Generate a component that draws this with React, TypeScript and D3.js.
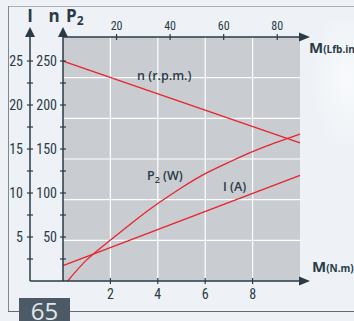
import React from "react";
import * as d3 from "d3";

const bottomTicks = [2, 4, 6, 8];
const topTicks = [20, 40, 60, 80];
const nTickLabels = [50, 100, 150, 200, 250];
const iTickLabels = [5, 10, 15, 20, 25];
const minorTicks = [25, 50, 75, 100, 125, 150, 175, 200, 225, 250];

// n (r.p.m.) vs M (N.m)
const nM = [0, 10];
const nVals = [250, 157];
// P2 (W) vs M
const p2M = [0.2, 1, 2, 3, 4, 5, 6, 7, 8, 9, 10];
const p2Vals = [0, 24, 46.5, 68, 88, 106, 122, 135, 147, 157.5, 167];
// I (A) vs M
const iM = [0, 10];
const iVals = [1.74, 12.0];

const FONT = "'Liberation Sans Narrow', 'Roboto Condensed', Roboto, sans-serif";
const LFONT = "'Open Sans', 'Noto Sans', sans-serif";
const AX = "#2a3b47";
const RED = "#e8242c";

export default function App() {
  const x = d3.scaleLinear().domain([0, 10]).range([63, 300]);
  const xTop = d3.scaleLinear().domain([0, 88.5]).range([63, 300]);
  const y = d3.scaleLinear().domain([0, 277.3]).range([281, 37]);
  const yI = d3.scaleLinear().domain([0, 27.73]).range([281, 37]);
  const hGrid = d3.range(1, 6).map((k) => (277.3 / 6) * k);

  const line = d3.line<[number, number]>().x((d) => x(d[0])).y((d) => y(d[1]));
  const lineI = d3.line<[number, number]>().x((d) => x(d[0])).y((d) => yI(d[1]));
  const curve = d3
    .line<[number, number]>()
    .x((d) => x(d[0]))
    .y((d) => y(d[1]))
    .curve(d3.curveNatural);

  const nPath = line(nM.map((m, i) => [m, nVals[i]]));
  const p2Path = curve(p2M.map((m, i) => [m, p2Vals[i]]));
  const iPath = lineI(iM.map((m, i) => [m, iVals[i]]));

  return (
    <svg
      width={354}
      height={321}
      style={{ position: "absolute", left: 0, top: 0 }}
    >
      <defs>
        <radialGradient id="bg" cx="0.93" cy="0.3" r="0.35">
          <stop offset="0" stopColor="#f8fafc" />
          <stop offset="1" stopColor="#eef2f6" />
        </radialGradient>
      </defs>
      <rect x={0} y={0} width={354} height={321} fill="#eef2f6" />
      <rect x={250} y={20} width={104} height={200} fill="url(#bg)" />
      {/* frame */}
      <line x1={8} y1={6.5} x2={354} y2={6.5} stroke="#a9b3bc" strokeWidth={1} />
      <line x1={8.5} y1={6} x2={8.5} y2={312} stroke="#7d8a94" strokeWidth={1} />
      <line x1={8} y1={311.5} x2={354} y2={311.5} stroke="#5f6c76" strokeWidth={1} />
      <rect x={19} y={298} width={51} height={23} fill="#4b5a65" />
      <text
        x={44.5}
        y={320}
        textAnchor="middle"
        fontFamily={LFONT}
        fontSize={24}
        fill="#e3e8ec"
      >
        65
      </text>

      {/* plot area */}
      <rect x={63} y={37} width={237} height={244} fill="#c9ccd0" />
      {bottomTicks.map((t) => (
        <line key={"vg" + t} x1={x(t)} x2={x(t)} y1={37} y2={281} stroke="#ffffff" strokeWidth={1.2} />
      ))}
      {hGrid.map((v, i) => (
        <line key={"hg" + i} x1={63} x2={300} y1={y(v)} y2={y(v)} stroke="#ffffff" strokeWidth={1.2} />
      ))}

      {/* curves */}
      <path d={nPath || ""} fill="none" stroke={RED} strokeWidth={1.3} />
      <path d={p2Path || ""} fill="none" stroke={RED} strokeWidth={1.3} />
      <path d={iPath || ""} fill="none" stroke={RED} strokeWidth={1.3} />

      {/* axes */}
      <line x1={30} x2={300} y1={281} y2={281} stroke={AX} strokeWidth={1.5} />
      <path d={`M299,276.5 L310,281 L299,285.5 Z`} fill={AX} />
      <line x1={63} x2={300} y1={37} y2={37} stroke={AX} strokeWidth={1.5} />
      <path d={`M299,32.5 L310,37 L299,41.5 Z`} fill={AX} />
      <line x1={63} x2={63} y1={37} y2={281} stroke={AX} strokeWidth={1.5} />
      <path d={`M58,37 L63,27 L68,37 Z`} fill={AX} />
      <line x1={30} x2={30} y1={37} y2={281} stroke={AX} strokeWidth={1.5} />
      <path d={`M25,37 L30,27 L35,37 Z`} fill={AX} />

      {minorTicks.map((t) => (
        <g key={"mt" + t}>
          <line x1={60} x2={66} y1={y(t)} y2={y(t)} stroke={AX} strokeWidth={1.2} />
          <line x1={27} x2={33} y1={y(t)} y2={y(t)} stroke={AX} strokeWidth={1.2} />
        </g>
      ))}
      {nTickLabels.map((t) => (
        <text key={"nl" + t} x={57} y={y(t) + 5} textAnchor="end" fontFamily={FONT} fontSize={14} fill={AX}>
          {t}
        </text>
      ))}
      {iTickLabels.map((t) => (
        <text key={"il" + t} x={23} y={yI(t) + 5} textAnchor="end" fontFamily={FONT} fontSize={14} fill={AX}>
          {t}
        </text>
      ))}
      {bottomTicks.map((t) => (
        <g key={"bt" + t}>
          <line x1={x(t)} x2={x(t)} y1={278} y2={284} stroke={AX} strokeWidth={1.2} />
          <text x={x(t)} y={299} textAnchor="middle" fontFamily={FONT} fontSize={14} fill={AX}>
            {t}
          </text>
        </g>
      ))}
      {topTicks.map((t) => (
        <g key={"tt" + t}>
          <line x1={xTop(t)} x2={xTop(t)} y1={34} y2={40} stroke={AX} strokeWidth={1.2} />
          <text x={xTop(t)} y={30} textAnchor="middle" fontFamily={FONT} fontSize={12} fill={AX}>
            {t}
          </text>
        </g>
      ))}

      {/* axis titles */}
      <text x={30} y={22} textAnchor="middle" fontFamily={LFONT} fontWeight="bold" fontSize={17} fill={AX}>
        I
      </text>
      <text x={54} y={22} textAnchor="middle" fontFamily={LFONT} fontWeight="bold" fontSize={17} fill={AX}>
        n
      </text>
      <text x={66} y={22} fontFamily={LFONT} fontWeight="bold" fontSize={17} fill={AX}>
        P<tspan fontSize={12} dy={3}>2</tspan>
      </text>
      <text x={309} y={53} fontFamily={LFONT} fontWeight="bold" fontSize={15} fill={AX}>
        M<tspan fontSize={10}>(Lfb.in)</tspan>
      </text>
      <text x={312} y={272} fontFamily={LFONT} fontWeight="bold" fontSize={15} fill={AX}>
        M<tspan fontSize={10}>(N.m)</tspan>
      </text>

      {/* curve labels */}
      <text x={137} y={80} fontFamily={LFONT} fontWeight="600" fontSize={12.5} fill={AX}>
        n (r.p.m.)
      </text>
      <text x={147} y={180} fontFamily={LFONT} fontWeight="600" fontSize={12.5} fill={AX}>
        P<tspan fontSize={9} dy={3}>2</tspan>
        <tspan dy={-3}> (W)</tspan>
      </text>
      <text x={223} y={191} fontFamily={LFONT} fontWeight="600" fontSize={12.5} fill={AX}>
        I (A)
      </text>
    </svg>
  );
}
